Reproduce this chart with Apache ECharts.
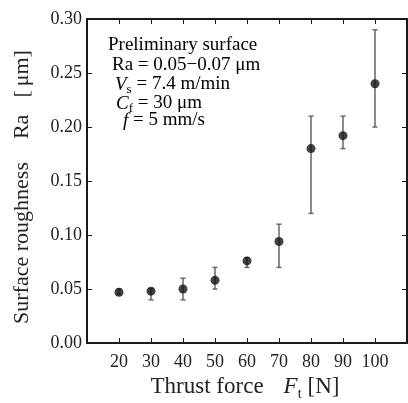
<!DOCTYPE html>
<html>
<head>
<meta charset="utf-8">
<script src="https://cdn.jsdelivr.net/npm/echarts@6/dist/echarts.min.js"></script>
<style>html,body{margin:0;padding:0;background:#fff}#c{width:408px;height:403px}</style>
</head>
<body>
<div id="c"></div>
<script>
const force = [20, 30, 40, 50, 60, 70, 80, 90, 100];
const ra = [0.047, 0.048, 0.050, 0.058, 0.076, 0.094, 0.180, 0.192, 0.240];
const raLow = [0.045, 0.040, 0.040, 0.050, 0.070, 0.070, 0.120, 0.180, 0.200];
const raHigh = [0.050, 0.050, 0.060, 0.070, 0.079, 0.110, 0.210, 0.210, 0.290];

const FONT = '"Liberation Serif", "DejaVu Serif", serif';
const AX = '#1a1a1a';
const TXT = '#222';

const chart = echarts.init(document.getElementById('c'), null, {renderer: 'canvas'});
const axisCommon = {
  axisLine: {show: true, onZero: false, lineStyle: {color: AX, width: 2}},
  axisTick: {show: true, inside: true, length: 5, lineStyle: {color: AX, width: 1}},
  splitLine: {show: false}
};

const AF = 19;
const richA = {
  n: {fontFamily: FONT, fontSize: AF, color: TXT, lineHeight: 24},
  i: {fontFamily: FONT, fontSize: AF, fontStyle: 'italic', color: TXT, lineHeight: 24},
  s: {fontFamily: FONT, fontSize: 13, color: TXT, lineHeight: 11, verticalAlign: 'bottom'}
};
function annot(x, y, text) {
  return {type: 'text', left: x, top: y, style: {text: text, rich: richA}};
}

const NF = 23;
const YF = 22;
chart.setOption({
  animation: false,
  grid: {left: 87, right: 1, top: 19, bottom: 60, outerBoundsMode: 'none', containLabel: false},
  xAxis: [
    Object.assign({}, axisCommon, {
      type: 'value', min: 10, max: 110, interval: 10, position: 'bottom',
      axisLabel: {fontFamily: FONT, fontSize: 18, color: TXT, margin: 10,
        formatter: v => (v === 10 || v === 110) ? '' : String(v)},
      name: '{n|Thrust force}{i|F}{s|t}{m|[N]}', nameLocation: 'middle', nameGap: 27,
      nameTextStyle: {
        rich: {
          n: {fontFamily: FONT, fontSize: NF, color: TXT, lineHeight: 28},
          i: {fontFamily: FONT, fontSize: NF, fontStyle: 'italic', color: TXT, lineHeight: 28, padding: [0, 0, 0, 20]},
          s: {fontFamily: FONT, fontSize: 14, color: TXT, lineHeight: 12, verticalAlign: 'bottom'},
          m: {fontFamily: FONT, fontSize: NF, color: TXT, lineHeight: 28, padding: [0, 4, 0, 6]}
        }
      }
    }),
    Object.assign({}, axisCommon, {
      type: 'value', min: 10, max: 110, interval: 10, position: 'top',
      axisLabel: {show: false}
    })
  ],
  yAxis: [
    Object.assign({}, axisCommon, {
      type: 'value', min: 0, max: 0.30, interval: 0.05, position: 'left',
      axisLabel: {fontFamily: FONT, fontSize: 18, color: TXT, margin: 5,
        formatter: v => v.toFixed(2)},
      name: '{n|Surface roughness}{g|Ra}{b|[}{h|μm]}', nameLocation: 'middle', nameGap: 54,
      nameTextStyle: {
        rich: {
          n: {fontFamily: FONT, fontSize: YF, color: TXT},
          g: {fontFamily: FONT, fontSize: YF, color: TXT, padding: [0, 0, 0, 23]},
          b: {fontFamily: FONT, fontSize: YF, color: TXT, padding: [0, 0, 0, 17]},
          h: {fontFamily: FONT, fontSize: YF, color: TXT, padding: [0, 12, 0, 4]}
        }
      }
    }),
    Object.assign({}, axisCommon, {
      type: 'value', min: 0, max: 0.30, interval: 0.05, position: 'right',
      axisLabel: {show: false}
    })
  ],
  series: [
    {
      type: 'custom',
      xAxisIndex: 0, yAxisIndex: 0,
      data: force.map((f, i) => [f, raLow[i], raHigh[i]]),
      renderItem: function (params, api) {
        const x = api.value(0);
        const lo = api.coord([x, api.value(1)]);
        const hi = api.coord([x, api.value(2)]);
        const cw = 2.5;
        const st = {stroke: '#666', lineWidth: 1.5};
        return {type: 'group', children: [
          {type: 'line', shape: {x1: lo[0], y1: lo[1], x2: hi[0], y2: hi[1]}, style: st},
          {type: 'line', shape: {x1: lo[0] - cw, y1: lo[1], x2: lo[0] + cw, y2: lo[1]}, style: st},
          {type: 'line', shape: {x1: hi[0] - cw, y1: hi[1], x2: hi[0] + cw, y2: hi[1]}, style: st}
        ]};
      },
      z: 2
    },
    {
      type: 'scatter',
      xAxisIndex: 0, yAxisIndex: 0,
      data: force.map((f, i) => [f, ra[i]]),
      symbol: 'circle', symbolSize: 9,
      itemStyle: {color: '#111'},
      z: 3
    }
  ],
  graphic: [
    annot(108, 36, '{n|Preliminary surface}'),
    annot(112, 56, '{n|Ra = 0.05−0.07 μm}'),
    annot(115, 75, '{i|V}{s|s}{n| = 7.4 m/min}'),
    annot(116, 94, '{i|C}{s|f}{n| = 30 μm}'),
    annot(123, 111, '{i|f}{n| = 5 mm/s}')
  ]
});
</script>
</body>
</html>
